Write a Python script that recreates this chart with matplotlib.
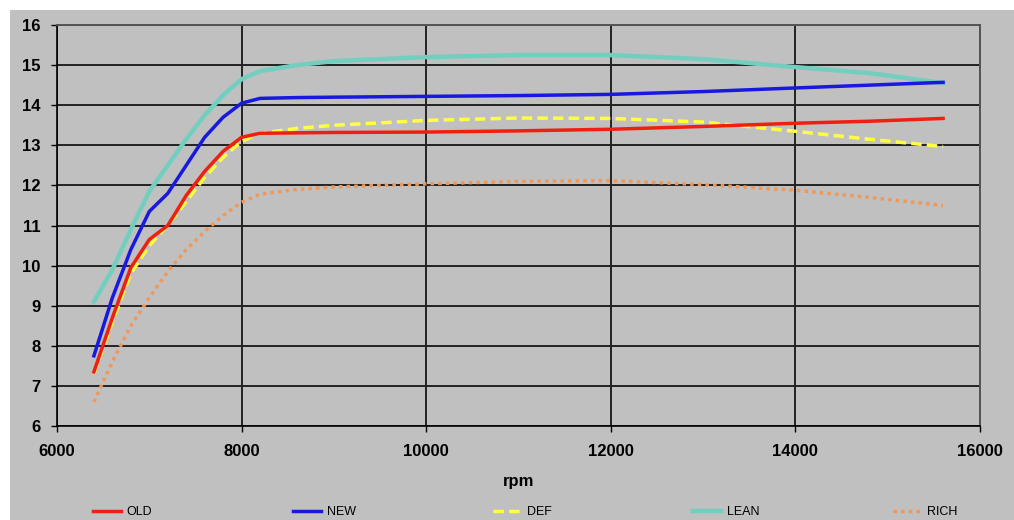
#!/usr/bin/env python3

# AFR vs rpm for the five maps (OLD / NEW / DEF / LEAN / RICH)

import matplotlib
matplotlib.use('Agg')
import matplotlib.pyplot as plt
from matplotlib.patches import Rectangle

rpm = [6400, 6600, 6800, 7000, 7200, 7400, 7600, 7800, 8000, 8200,
       8600, 9000, 10000, 11000, 12000, 13000, 14000, 14800, 15600]

old  = [7.35, 8.7, 9.95, 10.65, 11.0, 11.75, 12.35, 12.85, 13.2, 13.3,
        13.31, 13.32, 13.33, 13.36, 13.4, 13.47, 13.55, 13.6, 13.67]
new  = [7.75, 9.2, 10.4, 11.35, 11.8, 12.5, 13.2, 13.7, 14.05, 14.17,
        14.19, 14.2, 14.22, 14.24, 14.27, 14.34, 14.43, 14.5, 14.57]
dflt = [7.3, 8.6, 9.8, 10.5, 11.0, 11.6, 12.2, 12.7, 13.1, 13.3,
        13.42, 13.5, 13.62, 13.68, 13.67, 13.58, 13.35, 13.15, 12.97]
lean = [9.1, 9.9, 10.9, 11.85, 12.5, 13.15, 13.75, 14.25, 14.65, 14.85,
        15.0, 15.1, 15.2, 15.25, 15.25, 15.15, 14.95, 14.8, 14.55]
rich = [6.6, 7.6, 8.5, 9.2, 9.85, 10.4, 10.85, 11.25, 11.58, 11.78,
        11.9, 11.96, 12.04, 12.1, 12.12, 12.02, 11.88, 11.7, 11.5]

xticks = [6000, 8000, 10000, 12000, 14000, 16000]
yticks = [6, 7, 8, 9, 10, 11, 12, 13, 14, 15, 16]
legend_order = ['OLD', 'NEW', 'DEF', 'LEAN', 'RICH']

GREY = '#c0c0c0'

plt.rcParams['font.family'] = ['Liberation Sans', 'DejaVu Sans']

fig = plt.figure(figsize=(10.14, 5.2), dpi=100, facecolor='white')
# grey chart area (white strip at top and left like the original screenshot)
fig.patches.append(Rectangle((10/1014., 0), 1 - 10/1014., 1 - 10/520.,
                             transform=fig.transFigure, facecolor=GREY,
                             edgecolor='none', zorder=-10))

ax = fig.add_axes([57/1014., 1 - 426/520., (980 - 57)/1014., (426 - 25)/520.])
ax.set_facecolor(GREY)

ax.plot(rpm, lean, color='#72cfbf', lw=3.2, zorder=2, label='LEAN')
ax.plot(rpm, dflt, color='#ffff40', lw=2.5, ls=(0, (3, 1.5)), zorder=3, label='DEF')
ax.plot(rpm, old, color='#f02010', lw=2.5, zorder=4, label='OLD')
ax.plot(rpm, new, color='#1818e0', lw=2.5, zorder=5, label='NEW')
ax.plot(rpm, rich, color='#f09858', lw=2.5, ls=(0, (1, 1.2)), zorder=6, label='RICH')

ax.set_xlim(6000, 16000)
ax.set_ylim(6, 16)
ax.set_xticks(xticks)
ax.set_yticks(yticks)
ax.set_xticklabels([str(v) for v in xticks], fontsize=12, fontweight='bold')
ax.set_yticklabels([str(v) for v in yticks], fontsize=12, fontweight='bold')
ax.tick_params(axis='both', direction='out', length=4, width=1, color='black')
ax.tick_params(axis='x', pad=9)
ax.tick_params(axis='y', pad=8)

ax.grid(True, color='#222222', lw=1.4, zorder=1)
ax.set_axisbelow(True)
for s in ('left', 'bottom'):
    ax.spines[s].set_color('black')
    ax.spines[s].set_linewidth(1.2)
for s in ('top', 'right'):
    ax.spines[s].set_color('#555555')
    ax.spines[s].set_linewidth(1.4)

ax.set_xlabel('rpm', fontsize=12, fontweight='bold', labelpad=11)

# legend entries evenly spread along the bottom, one legend per entry
h, l = ax.get_legend_handles_labels()
for i, name in enumerate(legend_order):
    lg = fig.legend([h[l.index(name)]], [name], loc='center left',
                    bbox_to_anchor=((93 + 200*i)/1014., 1 - 512/520.),
                    frameon=False, fontsize=9, handlelength=2.2,
                    handletextpad=0.5, borderaxespad=0, borderpad=0)

fig.savefig('out.png', dpi=100, facecolor=fig.get_facecolor())
